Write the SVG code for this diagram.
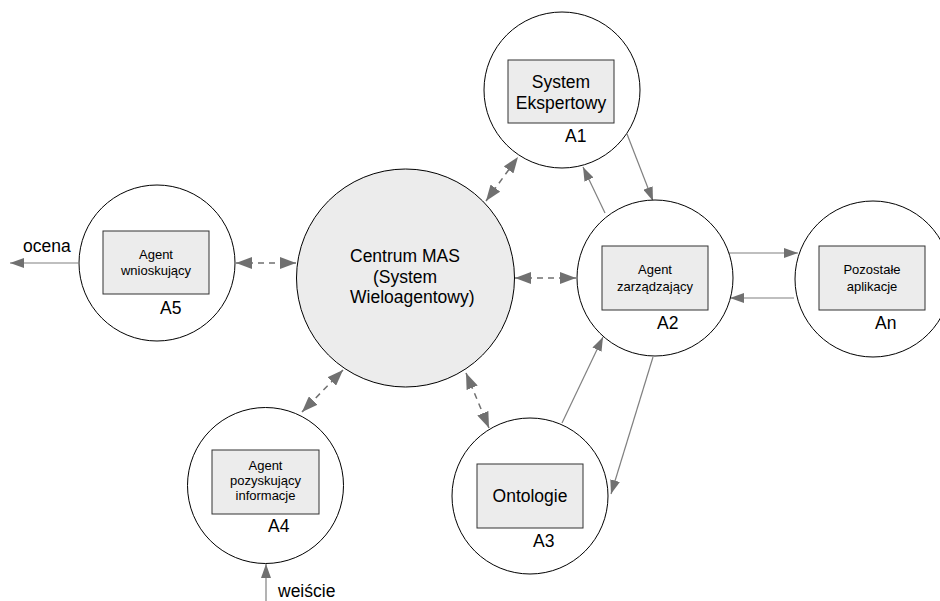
<svg xmlns="http://www.w3.org/2000/svg" width="940" height="601" viewBox="0 0 940 601">
<style>
.c{fill:#fff;stroke:#000;stroke-width:1}
.cc{fill:#ececec;stroke:#000;stroke-width:1}
.b{fill:#ececec;stroke:#333;stroke-width:1}
text{font-family:"Liberation Sans",Arial,sans-serif;fill:#000}
.big{font-size:17.5px}
.sm{font-size:13px}
.mid{text-anchor:middle}
.s{stroke:#808080;stroke-width:1.2;fill:none;marker-end:url(#ah)}
.d{stroke:#707070;stroke-width:1.5;fill:none;stroke-dasharray:6 5;marker-end:url(#dh);marker-start:url(#dh)}
</style>
<defs>
<marker id="ah" markerUnits="userSpaceOnUse" markerWidth="14" markerHeight="10" refX="14" refY="5" orient="auto-start-reverse" viewBox="0 0 14 10">
<path d="M0,0 L14,5 L0,10 z" fill="#707070"/>
</marker>
<marker id="dh" markerUnits="userSpaceOnUse" markerWidth="16" markerHeight="12" refX="16" refY="6" orient="auto-start-reverse" viewBox="0 0 16 12">
<path d="M0,0 L16,6 L0,12 z" fill="#707070"/>
</marker>
</defs>
<rect width="940" height="601" fill="#fff"/>
<g id="connectors">
<line class="d" x1="236" y1="263" x2="296" y2="263"/>
<line class="d" x1="515" y1="278" x2="576" y2="278"/>
<line class="d" x1="486" y1="201" x2="518" y2="157"/>
<line class="d" x1="343" y1="370" x2="302" y2="412"/>
<line class="d" x1="466" y1="373" x2="489" y2="428"/>
<line class="s" x1="78" y1="263" x2="10" y2="263"/>
<line class="s" x1="266" y1="601" x2="266" y2="564"/>
<line class="s" x1="605" y1="213" x2="583" y2="167"/>
<line class="s" x1="627" y1="134" x2="653" y2="201"/>
<line class="s" x1="729" y1="253" x2="798" y2="253"/>
<line class="s" x1="794" y1="298" x2="730" y2="298"/>
<line class="s" x1="562" y1="423" x2="603" y2="337"/>
<line class="s" x1="653" y1="357" x2="611" y2="494"/>
</g>
<g id="center">
<circle class="cc" cx="405.5" cy="278" r="109"/>
<text class="big" x="350" y="262">Centrum MAS</text>
<text class="big" x="373" y="283">(System</text>
<text class="big" x="350" y="303">Wieloagentowy)</text>
</g>
<g id="A1">
<circle class="c" cx="562" cy="90" r="78"/>
<rect class="b" x="508" y="60" width="106" height="63"/>
<text class="big mid" x="561" y="88">System</text>
<text class="big mid" x="561" y="109">Ekspertowy</text>
<text class="big" x="565" y="142">A1</text>
</g>
<g id="A2">
<circle class="c" cx="655" cy="278" r="78"/>
<rect class="b" x="602" y="246" width="106" height="64"/>
<text class="sm mid" x="655" y="274">Agent</text>
<text class="sm mid" x="655" y="291">zarządzający</text>
<text class="big" x="657" y="329">A2</text>
</g>
<g id="An">
<circle class="c" cx="873" cy="279" r="78"/>
<rect class="b" x="819" y="246" width="106" height="64"/>
<text class="sm mid" x="872" y="274">Pozostałe</text>
<text class="sm mid" x="872" y="291">aplikacje</text>
<text class="big" x="875" y="329">An</text>
</g>
<g id="A3">
<circle class="c" cx="530" cy="496" r="78"/>
<rect class="b" x="477" y="464" width="106" height="64"/>
<text class="big mid" x="530" y="502">Ontologie</text>
<text class="big" x="533" y="547">A3</text>
</g>
<g id="A4">
<circle class="c" cx="265.5" cy="485.5" r="78"/>
<rect class="b" x="212" y="450" width="107" height="64"/>
<text class="sm mid" x="265.5" y="470">Agent</text>
<text class="sm mid" x="265.5" y="485">pozyskujący</text>
<text class="sm mid" x="265.5" y="500">informacje</text>
<text class="big" x="268" y="532">A4</text>
</g>
<g id="A5">
<circle class="c" cx="157" cy="263" r="78"/>
<rect class="b" x="103" y="231" width="106" height="63"/>
<text class="sm mid" x="156" y="259">Agent</text>
<text class="sm mid" x="156" y="275">wnioskujący</text>
<text class="big" x="160" y="314">A5</text>
</g>
<g id="labels">
<text class="big" x="23" y="252">ocena</text>
<text class="big" x="278" y="597">weiście</text>
</g>
</svg>
